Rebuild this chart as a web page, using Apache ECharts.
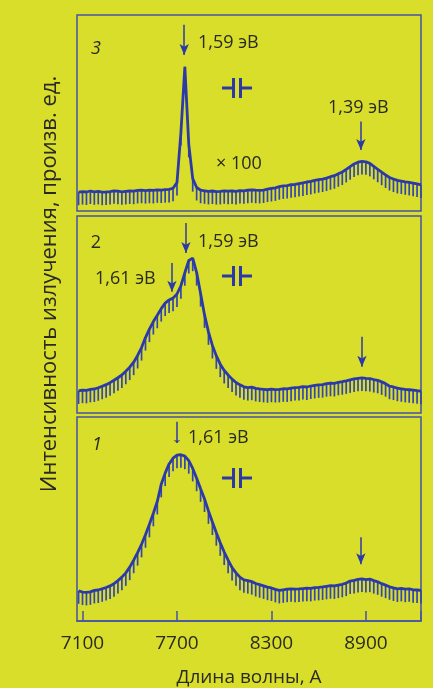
<!DOCTYPE html>
<html><head><meta charset="utf-8">
<script src="https://cdn.jsdelivr.net/npm/echarts@6/dist/echarts.min.js"></script>
<style>html,body{margin:0;padding:0;background:#d8de2a;}#c{width:433px;height:688px;}</style>
</head><body><div id="c"></div>
<script>
const wavelength = [7075,7100,7125,7150,7175,7200,7225,7250,7275,7300,7325,7350,7375,7400,7425,7450,7475,7500,7525,7550,7575,7600,7625,7650,7675,7700,7725,7750,7775,7800,7825,7850,7875,7900,7925,7950,7975,8000,8025,8050,8075,8100,8125,8150,8175,8200,8225,8250,8275,8300,8325,8350,8375,8400,8425,8450,8475,8500,8525,8550,8575,8600,8625,8650,8675,8700,8725,8750,8775,8800,8825,8850,8875,8900,8925,8950,8975,9000,9025,9050,9075,9100,9125,9150,9175,9200,9225,9250];

// panel 1 (bottom)
const spectrum1 = [14.8,14.2,14.0,14.3,15.0,15.2,15.8,16.4,17.2,18.3,19.8,21.5,23.6,26.4,29.8,33.5,37.6,42.3,47.4,52.8,58.6,67.0,72.5,77.0,79.8,81.3,81.5,80.8,78.6,74.8,70.0,64.8,59.8,54.0,48.5,43.3,38.3,33.8,29.8,26.2,23.6,21.5,20.2,19.8,19.3,18.4,17.8,17.2,16.6,16.2,15.5,15.0,15.3,15.6,15.8,15.6,15.7,15.9,16.1,16.0,16.4,16.5,16.7,17.0,17.3,17.2,17.6,18.0,18.6,19.6,19.9,20.4,20.6,20.3,20.5,19.8,19.2,18.3,17.6,16.8,16.2,15.7,16.0,15.6,15.8,15.3,15.2,15.0];
// panel 2 (middle)
const spectrum2 = [11.2,11.6,11.5,12.0,12.2,12.8,13.6,14.4,15.4,16.6,17.9,19.3,21.2,23.3,25.8,29.2,33.2,38.3,42.6,46.4,49.6,53.0,55.8,57.4,58.3,60.4,64.6,71.2,77.4,78.6,71.3,60.6,49.8,41.2,34.3,29.0,24.8,21.6,19.3,17.2,15.5,14.3,13.3,12.9,13.1,12.5,12.2,12.0,11.8,12.1,11.9,12.0,12.3,12.2,12.6,12.9,13.0,13.4,13.2,13.7,14.0,14.3,14.4,14.9,15.1,15.0,15.6,15.9,16.3,16.8,17.3,17.6,17.8,17.6,17.5,17.0,16.6,15.8,14.9,13.6,13.2,12.6,12.3,12.0,11.8,11.6,11.3,11.1];
// panel 3 (top)
const spectrum3 = [9.6,9.9,9.7,10.2,9.8,10.0,9.6,9.7,9.9,10.3,10.1,9.8,10.0,10.2,10.1,10.5,10.6,10.4,10.6,10.5,10.8,10.7,10.9,11.0,11.6,14.5,40.0,73.6,34.0,16.5,12.0,10.6,10.3,10.0,10.2,9.9,10.0,10.3,10.1,10.2,10.0,10.4,10.3,10.6,10.8,10.6,10.5,10.7,11.2,11.5,11.8,12.4,12.8,13.0,13.4,13.6,14.0,14.3,14.8,15.1,15.6,16.0,16.3,16.8,17.5,18.0,19.0,19.9,21.2,22.6,24.0,24.9,25.3,25.1,24.3,22.8,21.3,19.8,18.4,17.1,16.3,15.6,15.3,14.9,14.6,14.2,13.8,13.3];

const xTicks = [7100, 7700, 8300, 8900, 9250];
const xTickLabels = [7100, 7700, 8300, 8900];

// arrows: [wavelength, from intensity, to intensity]
const arrows3 = [[7746, 95, 79.6], [8868, 45.6, 31.1]];
const arrows2 = [[7757, 96.4, 81.2], [7668, 76.1, 61.6], [8875, 38.7, 23.5]];
const arrows1 = [[7700, 97.7, 87.2], [8868, 41, 27.8]];

const BLUE = '#2c3aa8';
const HATCH = '#3446b0';
const FRAME = '#4452a8';
const TXT = '#2a2a22';
const FONT = '"Open Sans", "Noto Sans", sans-serif';

function pairs(ys){ return wavelength.map((w,i)=>[w, ys[i]]); }

const grids = [
  {left:77, right:12, top:15, height:196},
  {left:77, right:12, top:216, height:197},
  {left:77, right:12, top:417, height:205}
];

const xAxes = grids.map((g, i) => ({
  gridIndex: i, type: 'value', min: 7065, max: 9250,
  axisLine: {show: i === 2, onZero: false, lineStyle: {color: FRAME, width: 1.5}},
  axisTick: {show: i === 2, inside: true, length: 10, customValues: xTicks, lineStyle: {color: FRAME, width: 1.5}},
  axisLabel: {show: i === 2, customValues: xTickLabels, margin: 13, fontSize: 19, color: TXT, fontFamily: FONT,
    formatter: v => String(v)},
  splitLine: {show: false},
  name: i === 2 ? 'Длина волны, А' : '',
  nameLocation: 'middle', nameGap: 47,
  nameTextStyle: {fontSize: 19, color: TXT, fontFamily: FONT}
}));

const yAxes = grids.map((g, i) => ({
  gridIndex: i, type: 'value', min: 0, max: 100, show: false
}));

function panelSeries(idx, ys, arrows, heads){
  return [
    {
      type: 'custom', xAxisIndex: idx, yAxisIndex: idx, z: 2,
      data: pairs(ys), encode: {x: 0, y: 1}, silent: true,
      renderItem: function(params, api){
        const p = api.coord([api.value(0), api.value(1)]);
        return {type: 'line', shape: {x1: p[0], y1: p[1], x2: p[0], y2: p[1] + 13},
          style: {stroke: HATCH, lineWidth: 1.7}};
      }
    },
    {
      type: 'line', xAxisIndex: idx, yAxisIndex: idx, z: 3,
      data: pairs(ys), showSymbol: false, silent: true,
      lineStyle: {color: BLUE, width: 2.8}, animation: false,
      markLine: {
        silent: true, animation: false,
        lineStyle: {color: BLUE, width: 1.5, type: 'solid'},
        label: {show: false},
        data: arrows.map((a, k) => [
          {coord: [a[0], a[1]], symbol: 'none'},
          {coord: [a[0], a[2]], symbol: 'arrow', symbolSize: heads[k]}
        ])
      }
    }
  ];
}

const series = [].concat(
  panelSeries(0, spectrum3, arrows3, [[7, 11], [7, 11]]),
  panelSeries(1, spectrum2, arrows2, [[7, 11], [7, 11], [7, 11]]),
  panelSeries(2, spectrum1, arrows1, [[5, 3], [7, 11]])
);

function capSymbol(cx, cy){
  const s = {stroke: BLUE, lineWidth: 3};
  return {type: 'group', x: cx, y: cy, silent: true, children: [
    {type: 'line', shape: {x1: -15, y1: 0, x2: -3.5, y2: 0}, style: s},
    {type: 'line', shape: {x1: -3.5, y1: -10, x2: -3.5, y2: 10}, style: s},
    {type: 'line', shape: {x1: 3.5, y1: -10, x2: 3.5, y2: 10}, style: s},
    {type: 'line', shape: {x1: 3.5, y1: 0, x2: 15, y2: 0}, style: s}
  ]};
}

function txt(t, x, y, opts){
  return {type: 'text', x: x, y: y, silent: true, style: Object.assign({
    text: t, fill: TXT, font: '18px ' + FONT, align: 'left', verticalAlign: 'middle'
  }, opts || {})};
}

const graphic = [
  {type: 'text', x: 50, y: 284, rotation: Math.PI / 2, silent: true,
    style: {text: 'Интенсивность излучения, произв. ед.', fill: TXT, font: '22px ' + FONT, align: 'center', verticalAlign: 'middle'}},
  txt('3', 96, 49, {align: 'center', font: 'italic 18px ' + FONT}),
  txt('1,59 эВ', 198, 43),
  txt('× 100', 216, 164),
  txt('1,39 эВ', 328, 108),
  txt('2', 96, 243, {align: 'center'}),
  txt('1,59 эВ', 198, 242),
  txt('1,61 эВ', 95, 279),
  txt('1', 97, 445, {align: 'center', font: 'italic 18px ' + FONT}),
  txt('1,61 эВ', 188, 438),
  capSymbol(237, 88),
  capSymbol(237, 276),
  capSymbol(237, 478)
];

const chart = echarts.init(document.getElementById('c'), null, {renderer: 'canvas'});
chart.setOption({
  backgroundColor: '#d8de2a',
  animation: false,
  grid: grids.map(g => Object.assign({show: true, borderColor: FRAME, borderWidth: 1.5, backgroundColor: 'transparent'}, g)),
  xAxis: xAxes,
  yAxis: yAxes,
  series: series,
  graphic: graphic
});
</script>
</body></html>
